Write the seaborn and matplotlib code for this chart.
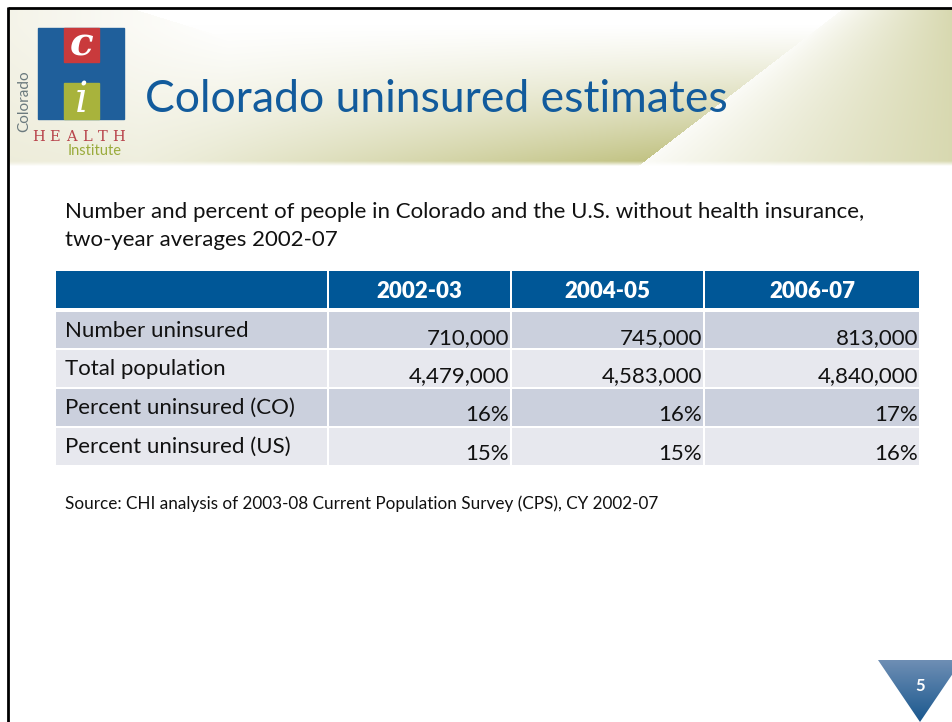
import numpy as np
import pandas as pd
import seaborn as sns
from matplotlib import pyplot as plt
from matplotlib.patches import Rectangle, Polygon

# table data
years = ["2002-03", "2004-05", "2006-07"]
row_labels = ["Number uninsured", "Total population",
              "Percent uninsured (CO)", "Percent uninsured (US)"]
number_uninsured = [710000, 745000, 813000]
total_population = [4479000, 4583000, 4840000]
pct_uninsured_co = [16, 16, 17]
pct_uninsured_us = [15, 15, 16]

title = "Colorado uninsured estimates"
subtitle = ("Number and percent of people in Colorado and the U.S. without health insurance,\n"
            "two-year averages 2002-07")
source = "Source: CHI analysis of 2003-08 Current Population Survey (CPS), CY 2002-07"
page_no = "5"


def main():
    sns.set_theme(style="white")
    plt.rcParams['font.family'] = ['Lato', 'DejaVu Sans']

    df = pd.DataFrame(
        [[f"{v:,}" for v in number_uninsured],
         [f"{v:,}" for v in total_population],
         [f"{v}%" for v in pct_uninsured_co],
         [f"{v}%" for v in pct_uninsured_us]],
        index=row_labels, columns=years)

    W, H = 952, 722
    fig = plt.figure(figsize=(9.52, 7.22), dpi=100)
    ax = fig.add_axes([0, 0, 1, 1])

    # header band background
    xs = np.arange(8, W) + 0.5
    ys = np.arange(9, 167) + 0.5
    X, Y = np.meshgrid(xs, ys)
    olive = np.array([192, 193, 128]) / 255
    cream = np.array([236, 234, 214]) / 255
    x2 = 843 - (Y - 9) * 203 / 156
    left = X < x2
    v = np.clip((Y - 25) / 140, 0, 1) ** 1.1
    h = np.clip((X - 140) / np.maximum(x2 - 140, 1), 0, 1)
    a_left = v * (0.25 + 0.75 * h)
    a_right = 0.06 + 0.56 * np.clip((X - x2) / (W - x2), 0, 1) ** 0.9
    a = np.where(left, a_left, a_right)
    a *= np.clip((166 - Y) / 5, 0, 1)
    img = np.ones(X.shape + (3,)) * (1 - a[..., None]) + olive * a[..., None]
    # cream on the left part behind the logo
    line1 = 133 + (Y - 9) / 0.31
    c = np.where(X < line1, 0.55 * np.clip(1 - (X - 8) / 220, 0, 1), 0.0)
    c *= np.clip((166 - Y) / 5, 0, 1)
    img = img * (1 - c[..., None]) + cream * c[..., None]
    ax.imshow(img, extent=[8, W, 167, 9], interpolation='bilinear', zorder=0)

    # slide frame
    ax.plot([8, W], [8, 8], color='black', lw=2, solid_capstyle='butt', zorder=5)
    ax.plot([8, 8], [7, H], color='black', lw=2, solid_capstyle='butt', zorder=5)

    # logo
    blue = '#1f5f9b'
    ax.add_patch(Rectangle((38, 28), 86, 91, color=blue, zorder=2))
    ax.add_patch(Rectangle((64, 28), 35, 34, color='#c93a3c', zorder=3))
    ax.add_patch(Rectangle((64, 83), 35, 36, color='#a8b33c', zorder=3))
    ax.text(81.5, 45, "c", color='white', fontsize=28, family='DejaVu Serif',
            style='italic', fontweight='bold', ha='center', va='center', zorder=4)
    ax.text(81.5, 100, "i", color='white', fontsize=30, family='DejaVu Serif',
            style='italic', ha='center', va='center', zorder=4)
    ax.text(24, 101, "Colorado", color='#6b7a7e', fontsize=11, rotation=90,
            ha='center', va='center', zorder=4)
    for i, ch in enumerate("HEALTH"):
        ax.text(39 + i * 16, 137, ch, color='#b8434b', fontsize=10.5,
                family='DejaVu Serif', ha='center', va='center', zorder=4)
    ax.text(95, 151, "Institute", color='#9aab3c', fontsize=10.5,
            ha='center', va='center', zorder=4)

    # title and subtitle
    ax.text(145, 112, title, color='#125b9c', fontsize=32, ha='left',
            va='baseline', zorder=4)
    ax.text(65, 218, subtitle.split("\n")[0], color='#111111', fontsize=16,
            ha='left', va='baseline')
    ax.text(65, 246, subtitle.split("\n")[1], color='#111111', fontsize=16,
            ha='left', va='baseline')

    # table
    col_edges = [(56, 327), (329, 510), (512, 703), (705, 919)]
    row_edges = [(312, 348), (350, 387), (389, 426), (428, 465)]
    header_blue = '#005797'
    for x0, x1 in col_edges:
        ax.add_patch(Rectangle((x0, 271), x1 - x0, 37, color=header_blue, lw=0))
    for j, yr in enumerate(df.columns):
        x0, x1 = col_edges[j + 1]
        ax.text((x0 + x1) / 2, 298, yr, color='white', fontsize=16,
                fontweight='heavy', ha='center', va='baseline')
    shades = ['#cbd0dd', '#e7e8ee']
    for i, lab in enumerate(df.index):
        y0, y1 = row_edges[i]
        for x0, x1 in col_edges:
            ax.add_patch(Rectangle((x0, y0), x1 - x0, y1 - y0,
                                   color=shades[i % 2], lw=0))
        ax.text(65, y0 + 25, lab, color='#111111', fontsize=16,
                ha='left', va='baseline')
        for j, yr in enumerate(df.columns):
            ax.text(col_edges[j + 1][1] - 1, y0 + 32, df.loc[lab, yr],
                    color='#111111', fontsize=16, ha='right', va='baseline')

    ax.text(65, 509, source, color='#111111', fontsize=12.3, ha='left',
            va='baseline')

    # page number marker
    tri = Polygon([(878, 660), (962, 660), (920, 722)], closed=True,
                  facecolor='none', edgecolor='none')
    ax.add_patch(tri)
    grad = np.linspace(0, 1, 64)[:, None]
    top = np.array([110, 142, 180]) / 255
    bot = np.array([26, 88, 142]) / 255
    gimg = (top * (1 - grad[..., None]) + bot * grad[..., None]) * np.ones((64, 8, 3))
    im = ax.imshow(gimg, extent=[878, 962, 722, 660], interpolation='bilinear',
                   zorder=2)
    im.set_clip_path(tri)
    ax.text(920, 686, page_no, color='white', fontsize=12, fontweight='bold',
            ha='center', va='center', zorder=3)

    ax.set_xlim(0, W)
    ax.set_ylim(H, 0)
    ax.set_aspect('auto')
    ax.axis('off')

    plt.savefig("out.png", dpi=100)


if __name__ == '__main__':
    main()
